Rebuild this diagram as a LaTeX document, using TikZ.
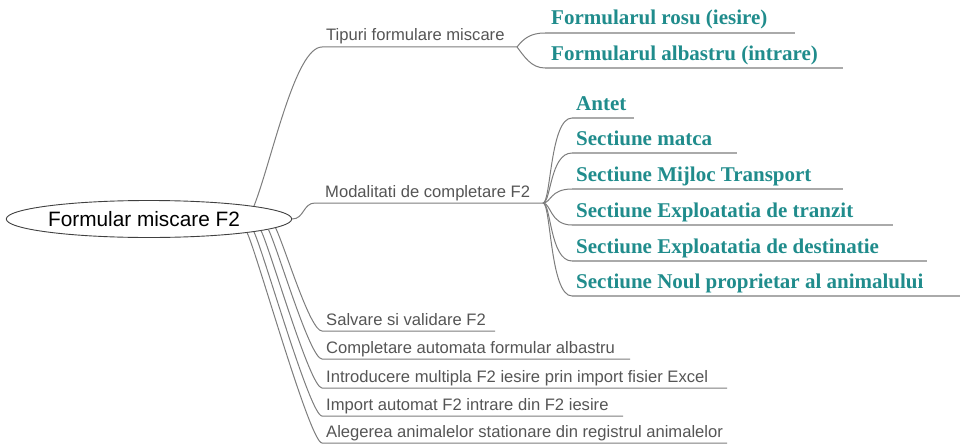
\documentclass[tikz,border=0pt]{standalone}
\usepackage{fontspec}
\setmainfont{Liberation Sans}
\newfontfamily\tealfont{Liberation Serif}
\usetikzlibrary{shapes.geometric}
\definecolor{tealtxt}{RGB}{32,140,140}
\definecolor{txtgray}{RGB}{85,85,85}
\definecolor{linegray}{RGB}{125,125,125}
\definecolor{ulgray}{RGB}{170,170,170}
\begin{document}
\begin{tikzpicture}[x=1pt,y=-1pt,
  glabel/.style={anchor=base west, inner sep=0pt, text=txtgray, font=\fontsize{16.6}{18}\selectfont},
  tlabel/.style={anchor=base west, inner sep=0pt, text=tealtxt, font=\tealfont\bfseries\fontsize{21}{23}\selectfont},
  gline/.style={draw=linegray, line width=1pt},
  tline/.style={draw=ulgray, line width=1.6pt},
  rootnode/.style={ellipse, draw=black!75, line width=0.9pt, minimum width=282pt, minimum height=37pt, inner sep=0pt, font=\fontsize{20.8}{24}\selectfont}]
\useasboundingbox (0,0) rectangle (960,444);

\node[rootnode] (root) at (149,219) {Formular miscare F2\hspace*{10pt}};

% first level: Tipuri
\coordinate (tipS) at (322,47);
\coordinate (tipE) at (517,47);
\node[glabel] (tip) at (326,41) {Tipuri formulare miscare};
\draw[gline] (root.7) .. controls +(18,-46) and +(-27,0) .. (tipS) -- (tipE);

\coordinate (rosS) at (545,33);
\coordinate (rosE) at (795,33);
\node[tlabel] (ros) at (551,25) {Formularul rosu (iesire)};
\coordinate (albS) at (545,68);
\coordinate (albE) at (843,68);
\node[tlabel] (alb) at (551,60) {Formularul albastru (intrare)};
\draw[gline] (tipE) .. controls +(7,-9) and +(-14,0) .. (rosS);
\draw[gline] (tipE) .. controls +(7,9) and +(-14,0) .. (albS);
\draw[tline] (rosS) -- (rosE);
\draw[tline] (albS) -- (albE);

% first level: Modalitati
\coordinate (modS) at (315,203);
\coordinate (modE) at (543,203);
\node[glabel] (mod) at (325,197) {Modalitati de completare F2};
\draw[gline] (root.east) .. controls +(12,0) and +(-12,0) .. (modS) -- (modE);

\foreach \n/\y/\xe/\t in {ant/118/634/Antet,
  mat/153/737/Sectiune matca,
  mij/189/843/Sectiune Mijloc Transport,
  tra/225/893/Sectiune Exploatatia de tranzit,
  des/261/927/Sectiune Exploatatia de destinatie,
  nou/296/960/Sectiune Noul proprietar al animalului}{
  \coordinate (\n S) at (572,\y);
  \coordinate (\n E) at (\xe,\y);
  \node[tlabel] (\n) at (576,\y-8) {\t};
  \draw[gline] (modE) .. controls +(8,0) and +(-22,0) .. (\n S);
  \draw[tline] (\n S) -- (\n E);
}

% lower first-level items
\foreach \n/\a/\y/\xe/\t in {sal/-4.6/331/495/Salvare si validare F2,
  com/-5.6/359/630/Completare automata formular albastru,
  int/-6.6/388/727/Introducere multipla F2 iesire prin import fisier Excel,
  imp/-7.6/416/623/Import automat F2 intrare din F2 iesire,
  ale/-8.7/443/727/Alegerea animalelor stationare din registrul animalelor}{
  \coordinate (\n S) at (322,\y);
  \coordinate (\n E) at (\xe,\y);
  \node[glabel] (\n) at (326,\y-6) {\t};
  \draw[gline] (root.\a) .. controls +(10,21) and +(-12,0) .. (\n S) -- (\n E);
}
\end{tikzpicture}
\end{document}
